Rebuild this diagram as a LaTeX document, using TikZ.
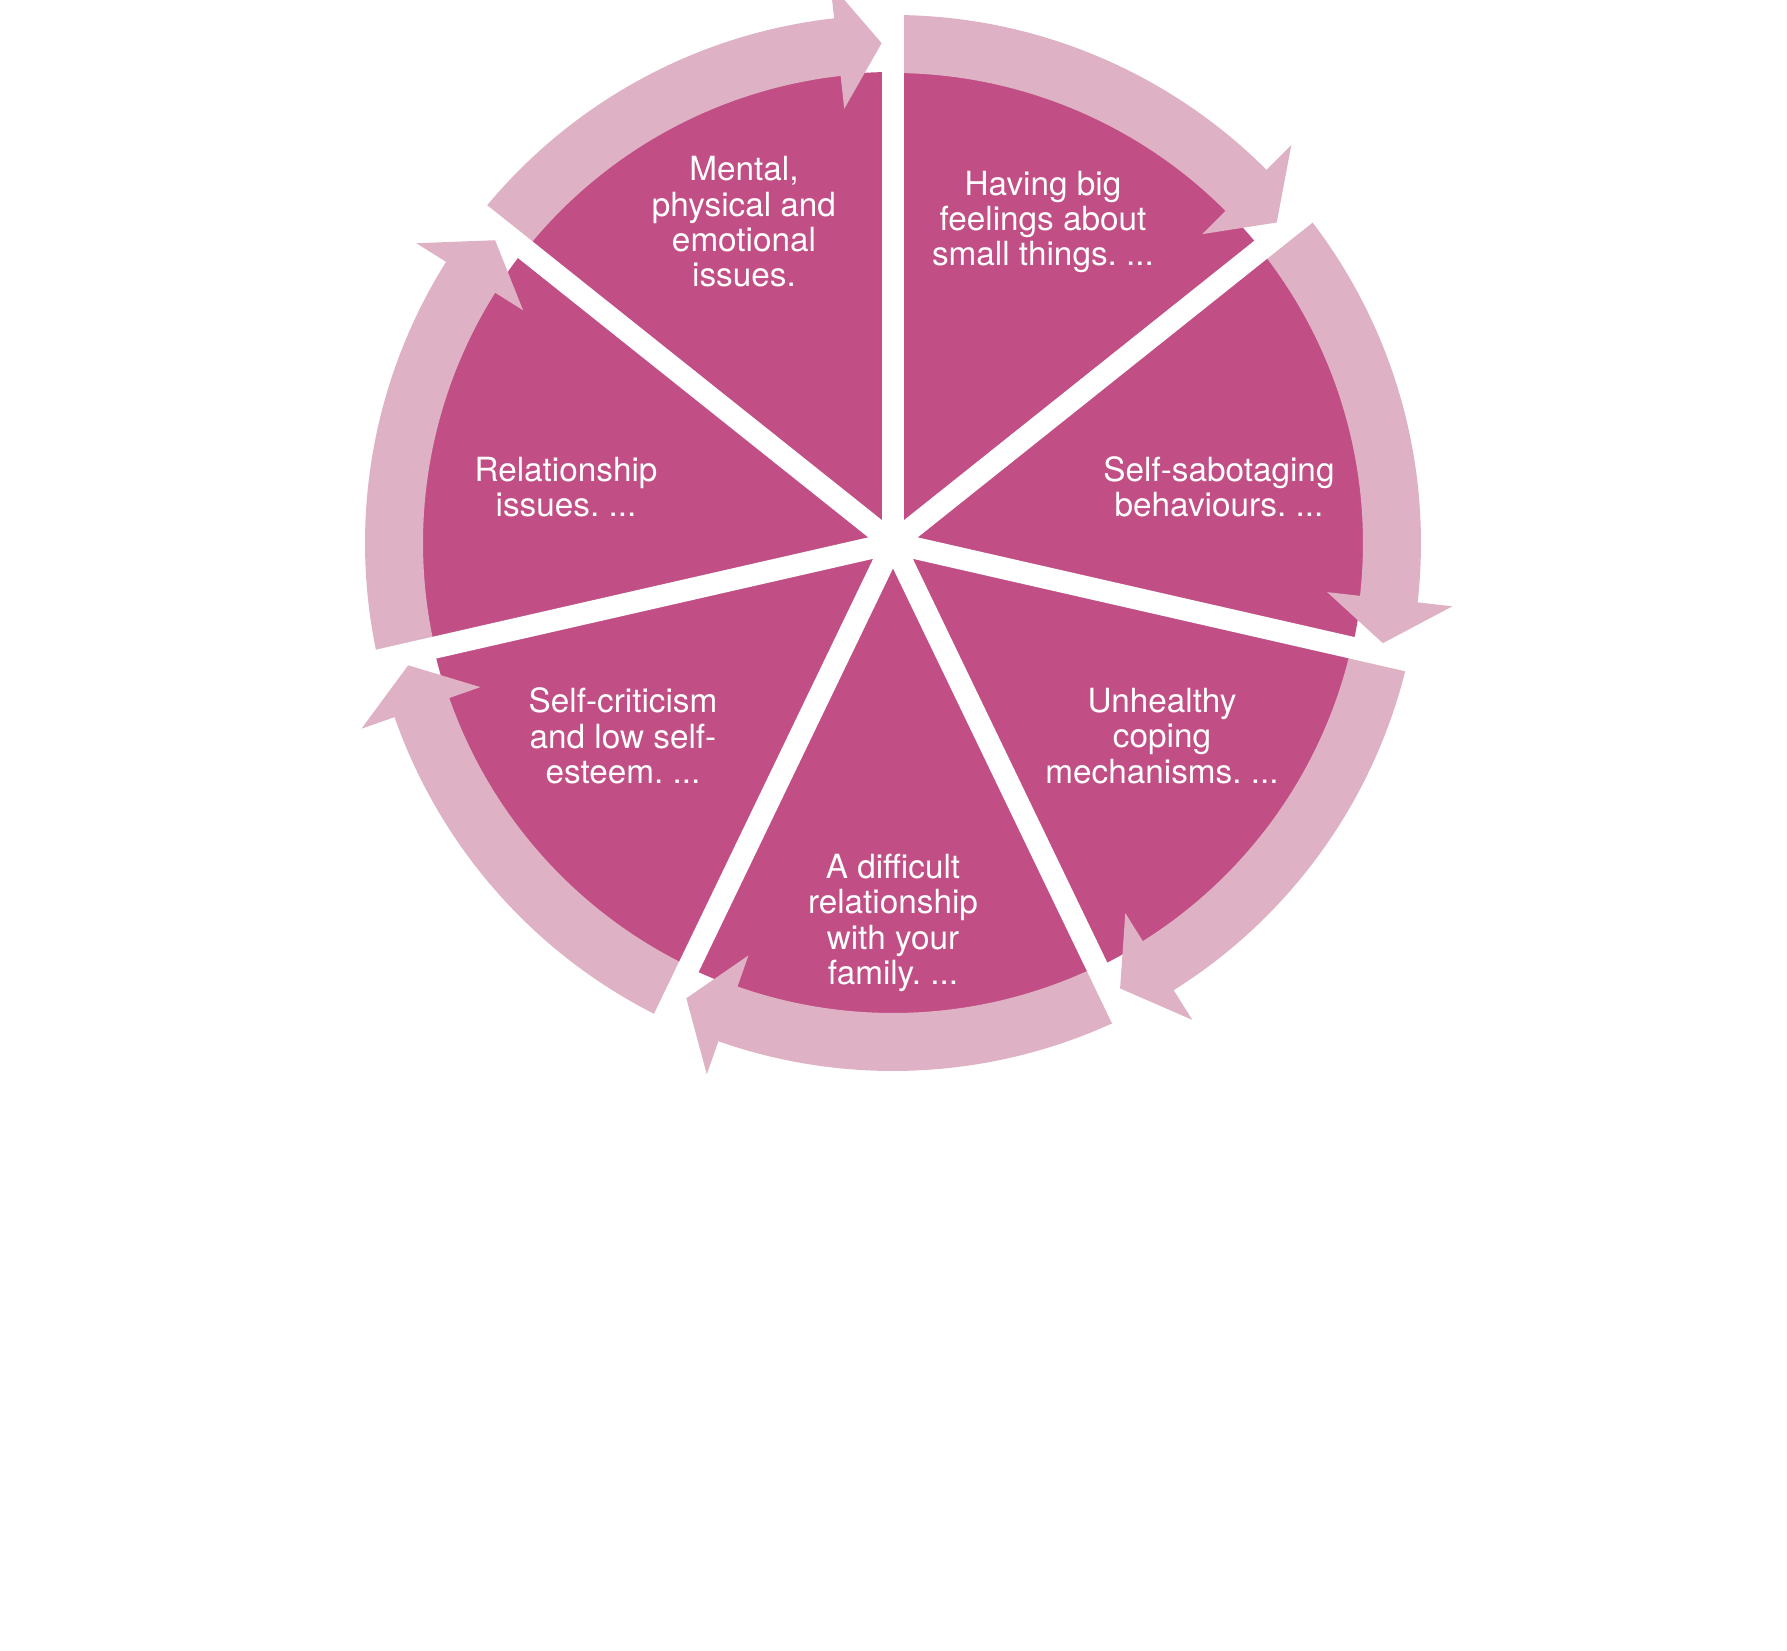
\documentclass[tikz,border=0pt]{standalone}
\usepackage{fontspec}
\setmainfont{TeX Gyre Heros}
\frenchspacing
\definecolor{pdark}{RGB}{193,78,132}
\definecolor{plight}{RGB}{222,178,196}
\begin{document}
\begin{tikzpicture}[x=1pt,y=1pt,
  lbl/.style={text=white, align=center, font=\fontsize{33.3}{35.3}\selectfont, inner sep=0pt}]
\useasboundingbox (-893,-1107) rectangle (894,543);
\fill[pdark] (0,0) circle[radius=471];
\foreach \k in {0,...,6} {
  \pgfmathsetmacro\ga{90-51.4286*\k}
  \pgfmathsetmacro\gb{\ga-51.4286}
  \pgfmathsetmacro\ge{\gb+6}
  \pgfmathsetmacro\gh{\gb+6.4}
  \pgfmathsetmacro\gt{\gb+1.3}
  \fill[plight] (\ga:470) arc[start angle=\ga, end angle=\ge, radius=470]
     -- (\ge:528) arc[start angle=\ge, end angle=\ga, radius=528] -- cycle;
  \fill[plight] (\gh:437) -- (\gt:500) -- (\gh:563) -- cycle;
}
\foreach \k in {0,...,6} {
  \fill[white, rotate={90-51.4286*\k}] (0,-11) rectangle (620,11);
}
\node[lbl] (t1) at (-149,321) {Mental,\\physical and\\emotional\\issues.};
\node[lbl] (t2) at (150,321) {Having big\\feelings about\\small things. ...};
\node[lbl] (t3) at (326,56) {Self-sabotaging\\behaviours. ...};
\node[lbl] (t4) at (269,-193) {Unhealthy\\coping\\mechanisms. ...};
\node[lbl] (t5) at (0,-380) {A difficult\\relationship\\with your\\family. ...};
\node[lbl] (t6) at (-270,-193) {Self-criticism\\and low self-\\esteem. ...};
\node[lbl] (t7) at (-327,56) {Relationship\\issues. ...};
\end{tikzpicture}
\end{document}
